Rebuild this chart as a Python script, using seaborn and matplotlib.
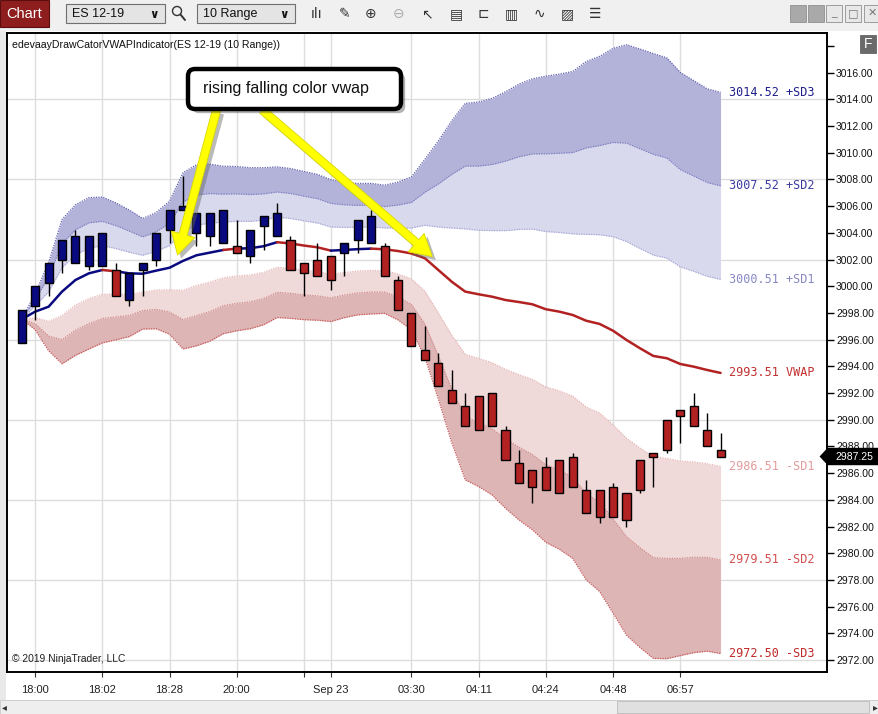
import numpy as np
import pandas as pd
import matplotlib
matplotlib.use("Agg")
import matplotlib.pyplot as plt
import seaborn as sns
from matplotlib.patches import Rectangle, FancyBboxPatch, Polygon, Circle
from matplotlib.lines import Line2D
from matplotlib.transforms import IdentityTransform, blended_transform_factory
import matplotlib.patheffects as pe

# ---------------- data (ES 12-19, 10 Range bars) ----------------
bar_open = [2995.75, 2998.5, 3000.25, 3002.0, 3001.75, 3001.5, 3001.5, 3001.25, 2999.0, 3001.25,
            3002.0, 3004.25, 3005.75, 3004.0, 3003.75, 3003.25, 3003.0, 3002.25, 3004.5, 3003.75,
            3003.5, 3001.75, 3002.0, 3002.25, 3002.5, 3003.5, 3003.25, 3003.0, 3000.5, 2998.0,
            2995.25, 2994.25, 2992.25, 2991.0, 2991.75, 2992.0, 2989.25, 2986.75, 2986.25, 2986.5,
            2987.0, 2987.25, 2984.75, 2984.75, 2985.0, 2984.5, 2987.0, 2987.5, 2990.0, 2990.75,
            2991.0, 2989.25, 2987.75]
bar_high = [2998.25, 3000.0, 3001.75, 3003.5, 3004.25, 3003.75, 3004.0, 3001.75, 3001.0, 3001.75,
            3004.0, 3005.75, 3008.25, 3005.5, 3005.5, 3005.75, 3005.0, 3004.25, 3005.25, 3006.25,
            3003.75, 3001.75, 3003.25, 3002.25, 3003.25, 3005.0, 3005.75, 3003.25, 3000.75, 2998.0,
            2997.0, 2995.0, 2993.75, 2992.0, 2991.75, 2992.0, 2989.5, 2987.75, 2986.25, 2987.25,
            2987.0, 2987.5, 2985.5, 2984.75, 2985.25, 2984.5, 2987.0, 2987.5, 2990.0, 2990.75,
            2992.0, 2990.5, 2989.0]
bar_low = [2995.75, 2997.5, 2999.25, 3001.0, 3001.75, 3001.25, 3001.5, 2999.25, 2998.5, 2999.25,
           3001.5, 3003.25, 3005.75, 3003.0, 3003.0, 3003.25, 3002.5, 3001.75, 3002.75, 3003.75,
           3001.25, 2999.25, 3000.75, 2999.75, 3000.75, 3002.5, 3003.25, 3000.75, 2998.25, 2995.5,
           2994.5, 2992.5, 2991.25, 2989.5, 2989.25, 2989.5, 2987.0, 2985.25, 2983.75, 2984.75,
           2984.5, 2985.0, 2983.0, 2982.25, 2982.75, 2982.0, 2984.5, 2985.0, 2987.5, 2988.25,
           2989.5, 2988.0, 2987.25]
bar_close = [2998.25, 3000.0, 3001.75, 3003.5, 3003.75, 3003.75, 3004.0, 2999.25, 3001.0, 3001.75,
             3004.0, 3005.75, 3006.0, 3005.5, 3005.5, 3005.75, 3002.5, 3004.25, 3005.25, 3005.5,
             3001.25, 3001.0, 3000.75, 3000.5, 3003.25, 3005.0, 3005.25, 3000.75, 2998.25, 2995.5,
             2994.5, 2992.5, 2991.25, 2989.5, 2989.25, 2989.5, 2987.0, 2985.25, 2985.0, 2984.75,
             2984.5, 2985.0, 2983.0, 2982.75, 2982.75, 2982.5, 2984.75, 2987.25, 2987.75, 2990.25,
             2989.5, 2988.0, 2987.25]
# VWAP direction per bar (colours bars and VWAP line)
vwap_trend = (["rising"] * 7 + ["falling"] + ["rising"] * 8 + ["falling"] + ["rising"] * 3
              + ["falling"] * 4 + ["rising"] * 3 + ["falling"] * 26)
vwap = [2997.53, 2998.10, 2998.47, 2999.60, 3000.47, 3000.97, 3001.22, 3001.12, 3000.97, 3000.94,
        3001.17, 3001.39, 3001.90, 3002.32, 3002.52, 3002.72, 3002.82, 3002.85, 3003.00, 3003.30,
        3003.21, 3003.05, 3002.92, 3002.67, 3002.72, 3002.78, 3002.82, 3002.77, 3002.64, 3002.46,
        3002.10, 3001.22, 3000.34, 2999.60, 2999.40, 2999.22, 2998.97, 2998.82, 2998.65, 2998.28,
        2998.10, 2997.85, 2997.42, 2997.18, 2996.67, 2995.98, 2995.36, 2994.78, 2994.61, 2994.18,
        2993.98, 2993.73, 2993.51]
std_dev = [0.0, 0.45, 1.10, 1.80, 1.88, 1.89, 1.82, 1.71, 1.58, 1.38,
           1.45, 1.66, 2.20, 2.26, 2.21, 2.09, 2.05, 2.01, 1.96, 1.88,
           1.87, 1.85, 1.82, 1.77, 1.69, 1.64, 1.63, 1.60, 1.72, 1.91,
           2.47, 3.22, 4.02, 4.70, 4.80, 4.95, 5.20, 5.44, 5.63, 5.82,
           5.93, 6.08, 6.47, 6.68, 7.05, 7.37, 7.47, 7.55, 7.50, 7.28,
           7.14, 7.02, 7.005]
tick_positions = [1, 6, 11, 16, 21, 23, 29, 34, 39, 44, 49]
tick_labels = ["18:00", "18:02", "18:28", "20:00", "", "Sep 23", "03:30", "04:11", "04:24", "04:48", "06:57"]
price_ticks = list(range(2972, 3019, 2))
grid_levels = [2972, 2978, 2984, 2990, 2996, 3002, 3008, 3014]
band_label_values = [3014.52, 3007.52, 3000.51, 2993.51, 2986.51, 2979.51, 2972.50]
band_label_names = ["+SD3", "+SD2", "+SD1", "VWAP", "-SD1", "-SD2", "-SD3"]
last_price = 2987.25
title_text = "edevaayDrawCatorVWAPIndicator(ES 12-19 (10 Range))"
note_text = "rising falling color vwap"
# callout arrows: (tail index, tail price) -> (tip index, tip price)
callout_arrows = [((14.5, 3013.2), (11.6, 3002.34)), ((17.9, 3013.2), (30.56, 3002.22))]

# ---------------- style ----------------
sns.set_style("white")
plt.rcParams["font.family"] = ["Liberation Sans", "DejaVu Sans"]

W, H = 879, 714
NAVY = "#0A0A80"
RED = "#B22222"
trend_color = {"rising": NAVY, "falling": RED}

fig = plt.figure(figsize=(W / 100, H / 100), dpi=100, facecolor="white")
ax = fig.add_axes([7 / W, 42 / H, 820 / W, 639 / H])
ax.set_facecolor("white")

idx = np.arange(len(vwap))
vw = np.array(vwap)
sd = np.array(std_dev)
df = pd.DataFrame({"bar": idx, "vwap": vw})
for k in (1, 2, 3):
    df[f"up{k}"] = vw + k * sd
    df[f"lo{k}"] = vw - k * sd

# grid
for lv in grid_levels:
    ax.axhline(lv, color="#DDDDDD", lw=1.0, zorder=0.5)
for tp in tick_positions:
    ax.axvline(tp, color="#DDDDDD", lw=1.0, zorder=0.5)

# bands
ax.fill_between(idx, df["up1"], df["up2"], color="#D9D9EE", lw=0, zorder=1)
ax.fill_between(idx, df["up2"], df["up3"], color="#B3B3DA", lw=0, zorder=1)
ax.fill_between(idx, df["lo1"], df["lo2"], color="#EFD9D9", lw=0, zorder=1)
ax.fill_between(idx, df["lo2"], df["lo3"], color="#DEB5B5", lw=0, zorder=1)
edge_styles = {"up3": "#5F5FB0", "up2": "#7E7EC2", "up1": "#A6A6D6",
               "lo1": "#E6B4B4", "lo2": "#D08888", "lo3": "#C85A5A"}
for col, c in edge_styles.items():
    sns.lineplot(data=df, x="bar", y=col, ax=ax, color=c, lw=0.9, linestyle=(0, (1, 1)),
                 estimator=None, sort=False, legend=False, zorder=2)

# VWAP line, coloured per segment by direction
n = len(vwap)
runs = []
start, cur = 0, vwap_trend[1]
for i in range(2, n):
    if vwap_trend[i] != cur:
        runs.append((start, i - 1, cur))
        start, cur = i - 1, vwap_trend[i]
runs.append((start, n - 1, cur))
for s, e, t in runs:
    seg = df.iloc[s:e + 1]
    sns.lineplot(data=seg, x="bar", y="vwap", ax=ax, color=trend_color[t], lw=1.8,
                 estimator=None, sort=False, legend=False, zorder=3, solid_capstyle="round")

# candles
ax.vlines(idx, bar_low, bar_high, color="black", lw=1.0, zorder=4)
for i in idx:
    o, c = bar_open[i], bar_close[i]
    ax.add_patch(Rectangle((i - 0.3, min(o, c)), 0.6, abs(c - o),
                           facecolor=trend_color[vwap_trend[i]], edgecolor="black", lw=1.0, zorder=5))

# band end labels
label_colors = ["#1E1E8C", "#3C3CA2", "#8888C6", "#C0302F", "#E49C9C", "#D25050", "#C02828"]
for val, name, col in zip(band_label_values, band_label_names, label_colors):
    ax.text(n - 1 + 0.65, val, f"{val:.2f} {name}", color=col, fontsize=8.5,
            family="DejaVu Sans Mono", va="center", ha="left", zorder=6)

# callout arrows
for (tx, ty), (hx, hy) in callout_arrows:
    ax.annotate("", xy=(hx, hy), xytext=(tx, ty), xycoords="data", textcoords="data",
                annotation_clip=False, zorder=20,
                arrowprops=dict(arrowstyle="simple,head_length=1.1,head_width=1.25,tail_width=0.42",
                                mutation_scale=14, fc="#FFFF00", ec="#D8D800", lw=0.6,
                                shrinkA=0, shrinkB=0,
                                path_effects=[pe.SimplePatchShadow(offset=(2.5, -2.5),
                                                                   shadow_rgbFace="#666666", alpha=0.45),
                                              pe.Normal()]))

# axes formatting
ax.set_xlim(-1.094, 59.92)
ax.set_ylim(2971.11, 3018.97)
ax.set_xlabel("")
ax.set_ylabel("")
ax.yaxis.tick_right()
ax.set_yticks(price_ticks)
ax.set_yticklabels([f"{p:.2f}" if p != 3018 else "" for p in price_ticks])
ax.set_xticks(tick_positions)
ax.set_xticklabels(tick_labels)
ax.tick_params(axis="y", which="major", right=True, left=False, length=5, width=1,
               color="black", labelsize=7.5, pad=1.5, labelcolor="#111111")
ax.tick_params(axis="x", which="major", bottom=True, length=3.5, width=0.8,
               color="#333333", labelsize=8, pad=6, labelcolor="#222222")
for sp in ax.spines.values():
    sp.set_color("black")
    sp.set_linewidth(1.4)
ax.grid(False)

# last price marker
trans = blended_transform_factory(ax.transAxes, ax.transData)
fx = lambda px: (px - 7) / 820
hh = 0.6
ax.add_patch(Polygon([(fx(820.5), last_price), (fx(828), last_price + hh), (fx(880), last_price + hh),
                      (fx(880), last_price - hh), (fx(828), last_price - hh)], closed=True,
                     transform=trans, facecolor="black", edgecolor="black", clip_on=False, zorder=10))
ax.text(fx(854), last_price, f"{last_price:.2f}", transform=trans, color="white", fontsize=7.5,
        ha="center", va="center", clip_on=False, zorder=11)


# ---------------- window chrome ----------------
def prect(x0, y0, x1, y1, **kw):
    r = Rectangle((x0, H - y1), x1 - x0, y1 - y0, transform=IdentityTransform(), **kw)
    fig.add_artist(r)
    return r


def ptext(x, y, s, **kw):
    return fig.text(x / W, 1 - y / H, s, **kw)


prect(0, 0, W, 31, fc="#F0F0F0", ec="none", zorder=0)
prect(0, 31, 6, 700, fc="#E9E9E9", ec="none", zorder=0)
prect(0, 0, 49, 27, fc="#8E1D1D", ec="#5A0E0E", lw=0.8)
ptext(6, 14, "Chart", color="white", fontsize=10.5, va="center")
for x0, x1, label in [(66, 165, "ES 12-19"), (197, 295, "10 Range")]:
    prect(x0, 4, x1, 23, fc="#E4E4E4", ec="#707070", lw=0.8)
    ptext(x0 + 6, 14, label, fontsize=9, va="center", color="#111111")
    ptext(x1 - 11, 14, "∨", fontsize=8.5, va="center", ha="center", fontweight="bold",
          family="DejaVu Sans", color="#111111")
fig.add_artist(Circle((177, H - 11), 4.5, transform=IdentityTransform(), fc="none", ec="#333333", lw=1.0))
fig.add_artist(Line2D([180.5, 185], [H - 14.5, H - 20], transform=IdentityTransform(), color="#333333", lw=1.4))
icons = ["ılı", "✎", "⊕", "⊖", "↖", "▤", "⊏", "▥", "∿", "▨", "☰"]
icon_x = [317, 345, 371, 399, 427, 456, 483, 511, 539, 567, 595]
for gx, g in zip(icon_x, icons):
    ptext(gx, 14, g, fontsize=10, family="DejaVu Sans", ha="center", va="center",
          color="#AAAAAA" if g == "⊖" else "#333333")
prect(790, 5, 806, 22, fc="#A9A9A9", ec="#909090", lw=0.6)
prect(808, 5, 824, 22, fc="#A9A9A9", ec="#909090", lw=0.6)
for x0, g in [(826, "_"), (845, "□"), (864, "✕")]:
    prect(x0, 5, x0 + 16, 22, fc="#E8E8E8", ec="#909090", lw=0.6)
    ptext(x0 + 8, 13, g, fontsize=8, family="DejaVu Sans", ha="center", va="center", color="#777777")

# F button
prect(860, 35, 876, 53, fc="#6A6A6A", ec="#555555", lw=0.5, zorder=5)
ptext(868, 44, "F", color="white", fontsize=10, ha="center", va="center", zorder=6)

# scrollbar
prect(0, 700, W, H, fc="#EEEEEE", ec="#C8C8C8", lw=0.6)
prect(617, 701, 869, 713, fc="#E0E0E0", ec="#BBBBBB", lw=0.6)
ptext(4, 707, "◂", fontsize=7, family="DejaVu Sans", ha="center", va="center", color="#333333")
ptext(875, 707, "▸", fontsize=7, family="DejaVu Sans", ha="center", va="center", color="#333333")

# title and watermark
ptext(12, 45, title_text, fontsize=7.6, va="center", color="#111111")
ptext(12, 659, "© 2019 NinjaTrader, LLC", fontsize=7.4, va="center", color="#222222")

# annotation box
box = FancyBboxPatch((188, H - 109), 213, 40, boxstyle="round,pad=0,rounding_size=7",
                     transform=IdentityTransform(), fc="white", ec="black", lw=3.2, zorder=30,
                     path_effects=[pe.SimplePatchShadow(offset=(3, -3), shadow_rgbFace="#555555", alpha=0.45),
                                   pe.Normal()])
fig.add_artist(box)
ptext(203, 89, note_text, fontsize=11.5, va="center", color="#111111", zorder=31)

fig.savefig("out.png", dpi=100, facecolor="white")
